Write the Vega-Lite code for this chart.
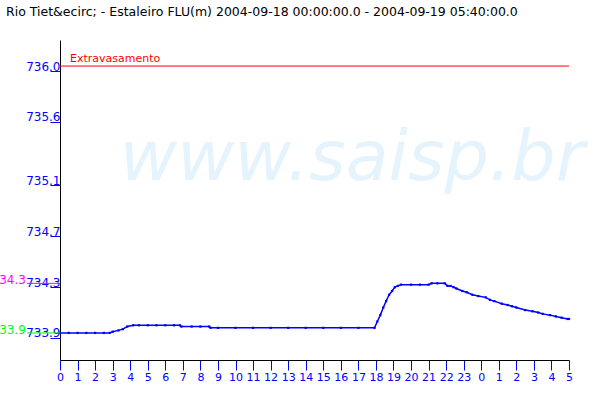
{
  "$schema": "https://vega.github.io/schema/vega-lite/v6.json",
  "width": 509,
  "height": 320,
  "autosize": {"type": "none"},
  "padding": {"left": 60, "top": 40, "right": 31, "bottom": 40},
  "background": "white",
  "config": {
    "view": {"stroke": null},
    "font": "DejaVu Sans",
    "axisX": {"labelOverlap": false, "labelFlush": false, "labelBound": false, "grid": false, "domainColor": "black", "tickColor": "#0000ff", "tickSize": 10, "labelColor": "#0000ff", "labelFontSize": 11, "labelFont": "DejaVu Sans", "labelPadding": 1, "title": null},
    "axisY": {"labelOverlap": false, "grid": false, "domainColor": "black", "tickColor": "#0000ff", "tickSize": 10, "tickOffset": 5, "labelOffset": -5, "labelColor": "#0000ff", "labelFontSize": 12, "labelFont": "DejaVu Sans", "labelPadding": -10, "title": null}
  },
  "title": {
    "text": "Rio Tiet&ecirc; - Estaleiro FLU(m) 2004-09-18 00:00:00.0 - 2004-09-19 05:40:00.0",
    "anchor": "start",
    "frame": "group",
    "dx": -54,
    "offset": 22,
    "fontSize": 12.5,
    "fontWeight": "normal",
    "font": "DejaVu Sans",
    "color": "black"
  },
  "datasets": {
    "series": [
      {"h": 0, "v": 733.90},
      {"h": 0.5, "v": 733.90},
      {"h": 1, "v": 733.90},
      {"h": 1.5, "v": 733.90},
      {"h": 2, "v": 733.90},
      {"h": 2.5, "v": 733.90},
      {"h": 2.83, "v": 733.90},
      {"h": 3, "v": 733.91},
      {"h": 3.33, "v": 733.92},
      {"h": 3.58, "v": 733.93},
      {"h": 3.83, "v": 733.95},
      {"h": 4.17, "v": 733.96},
      {"h": 4.5, "v": 733.96},
      {"h": 5, "v": 733.96},
      {"h": 5.5, "v": 733.96},
      {"h": 6, "v": 733.96},
      {"h": 6.5, "v": 733.96},
      {"h": 6.83, "v": 733.96},
      {"h": 6.92, "v": 733.95},
      {"h": 7.5, "v": 733.95},
      {"h": 8, "v": 733.95},
      {"h": 8.5, "v": 733.95},
      {"h": 8.58, "v": 733.94},
      {"h": 9, "v": 733.94},
      {"h": 10, "v": 733.94},
      {"h": 11, "v": 733.94},
      {"h": 12, "v": 733.94},
      {"h": 13, "v": 733.94},
      {"h": 14, "v": 733.94},
      {"h": 15, "v": 733.94},
      {"h": 16, "v": 733.94},
      {"h": 17, "v": 733.94},
      {"h": 17.92, "v": 733.94},
      {"h": 18.08, "v": 733.99},
      {"h": 18.25, "v": 734.04},
      {"h": 18.42, "v": 734.10},
      {"h": 18.58, "v": 734.15},
      {"h": 18.75, "v": 734.20},
      {"h": 18.92, "v": 734.23},
      {"h": 19.08, "v": 734.26},
      {"h": 19.25, "v": 734.27},
      {"h": 19.42, "v": 734.28},
      {"h": 20, "v": 734.28},
      {"h": 20.5, "v": 734.28},
      {"h": 21, "v": 734.28},
      {"h": 21.17, "v": 734.29},
      {"h": 21.5, "v": 734.29},
      {"h": 21.92, "v": 734.29},
      {"h": 22.08, "v": 734.27},
      {"h": 22.25, "v": 734.27},
      {"h": 22.42, "v": 734.26},
      {"h": 22.58, "v": 734.25},
      {"h": 22.92, "v": 734.23},
      {"h": 23.17, "v": 734.22},
      {"h": 23.5, "v": 734.20},
      {"h": 23.83, "v": 734.19},
      {"h": 24.25, "v": 734.18},
      {"h": 24.5, "v": 734.16},
      {"h": 24.75, "v": 734.15},
      {"h": 25.17, "v": 734.13},
      {"h": 25.5, "v": 734.12},
      {"h": 25.75, "v": 734.11},
      {"h": 26, "v": 734.10},
      {"h": 26.5, "v": 734.08},
      {"h": 26.92, "v": 734.07},
      {"h": 27.25, "v": 734.06},
      {"h": 27.5, "v": 734.05},
      {"h": 27.92, "v": 734.04},
      {"h": 28.25, "v": 734.03},
      {"h": 28.58, "v": 734.02},
      {"h": 28.92, "v": 734.01},
      {"h": 29, "v": 734.01}
    ],
    "limits": [
      {"name": "Extravasamento", "v": 736.0}
    ],
    "extremes": [
      {"label": "734.3", "v": 734.29, "kind": "max"},
      {"label": "733.9", "v": 733.90, "kind": "min"}
    ],
    "watermark": [
      {"text": "www.saisp.br"}
    ]
  },
  "layer": [
    {
      "data": {"name": "series"},
      "mark": {"type": "line", "color": "#0000ff", "strokeWidth": 1.5, "point": {"shape": "square", "size": 5, "filled": true, "color": "#0000ff"}},
      "encoding": {
        "x": {
          "field": "h", "type": "quantitative",
          "scale": {"domain": [0, 29], "zero": false, "nice": false},
          "axis": {"values": [0,1,2,3,4,5,6,7,8,9,10,11,12,13,14,15,16,17,18,19,20,21,22,23,24,25,26,27,28,29], "labelExpr": "'' + (datum.value % 24)"}
        },
        "y": {
          "field": "v", "type": "quantitative",
          "scale": {"domain": [733.687, 736.205], "zero": false, "nice": false},
          "axis": {"values": [733.9, 734.3, 734.7, 735.1, 735.6, 736.0], "format": ".1f"}
        }
      }
    },
    {
      "data": {"name": "watermark"},
      "mark": {"type": "text", "font": "DejaVu Sans", "fontStyle": "italic", "fontSize": 70, "color": "#e5f4fc", "align": "center", "baseline": "alphabetic"},
      "encoding": {
        "x": {"datum": 16.64, "type": "quantitative", "axis": {"values": [0,1,2,3,4,5,6,7,8,9,10,11,12,13,14,15,16,17,18,19,20,21,22,23,24,25,26,27,28,29], "labelExpr": "'' + (datum.value % 24)"}},
        "y": {"datum": 735.10, "type": "quantitative", "axis": {"values": [733.9, 734.3, 734.7, 735.1, 735.6, 736.0], "format": ".1f"}},
        "text": {"field": "text", "type": "nominal"}
      }
    },
    {
      "data": {"name": "limits"},
      "mark": {"type": "rule", "color": "#ff0000", "strokeWidth": 1},
      "encoding": {
        "y": {"field": "v", "type": "quantitative", "axis": {"values": [733.9, 734.3, 734.7, 735.1, 735.6, 736.0], "format": ".1f"}}
      }
    },
    {
      "data": {"name": "limits"},
      "mark": {"type": "text", "color": "#ff0000", "fontSize": 11, "font": "DejaVu Sans", "align": "left", "baseline": "alphabetic", "dy": -4},
      "encoding": {
        "x": {"datum": 0.57, "type": "quantitative", "axis": {"values": [0,1,2,3,4,5,6,7,8,9,10,11,12,13,14,15,16,17,18,19,20,21,22,23,24,25,26,27,28,29], "labelExpr": "'' + (datum.value % 24)"}},
        "y": {"field": "v", "type": "quantitative", "axis": {"values": [733.9, 734.3, 734.7, 735.1, 735.6, 736.0], "format": ".1f"}},
        "text": {"field": "name", "type": "nominal"}
      }
    },
    {
      "data": {"name": "extremes"},
      "mark": {"type": "rule", "strokeWidth": 1},
      "encoding": {
        "x": {"datum": -1.88, "type": "quantitative", "axis": {"values": [0,1,2,3,4,5,6,7,8,9,10,11,12,13,14,15,16,17,18,19,20,21,22,23,24,25,26,27,28,29], "labelExpr": "'' + (datum.value % 24)"}},
        "x2": {"datum": 0},
        "y": {"field": "v", "type": "quantitative", "axis": {"values": [733.9, 734.3, 734.7, 735.1, 735.6, 736.0], "format": ".1f"}},
        "color": {"field": "kind", "type": "nominal", "scale": {"domain": ["max", "min"], "range": ["#ff00ff", "#00ff00"]}, "legend": null}
      }
    },
    {
      "data": {"name": "extremes"},
      "mark": {"type": "text", "fontSize": 12, "font": "DejaVu Sans", "align": "right", "baseline": "alphabetic", "dy": 1},
      "encoding": {
        "x": {"datum": -1.94, "type": "quantitative", "axis": {"values": [0,1,2,3,4,5,6,7,8,9,10,11,12,13,14,15,16,17,18,19,20,21,22,23,24,25,26,27,28,29], "labelExpr": "'' + (datum.value % 24)"}},
        "y": {"field": "v", "type": "quantitative", "axis": {"values": [733.9, 734.3, 734.7, 735.1, 735.6, 736.0], "format": ".1f"}},
        "text": {"field": "label", "type": "nominal"},
        "color": {"field": "kind", "type": "nominal", "legend": null}
      }
    }
  ]
}
